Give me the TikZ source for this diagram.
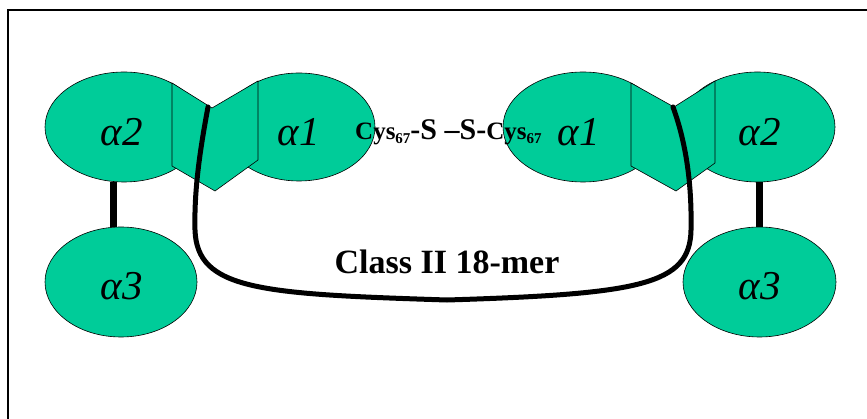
\documentclass[tikz,border=0pt]{standalone}
\usepackage{fontspec}
\setmainfont{Liberation Serif}
\usetikzlibrary{shapes.geometric}
\definecolor{domfill}{RGB}{0,204,153}
\begin{document}
\begin{tikzpicture}[x=1pt,y=-1pt,
  dom/.style={ellipse, draw=black, line width=0.6pt, fill=domfill, inner sep=0pt},
  hinge/.style={draw=black, line width=0.6pt, fill=domfill, line join=miter},
  lab/.style={font=\fontsize{41}{41}\selectfont\itshape, anchor=base, inner sep=0pt},
  bar/.style={line width=7pt},
  chain/.style={line width=5pt, line cap=round},
  frameline/.style={line width=2pt}]
\useasboundingbox (0,0) rectangle (867,419);
\draw[frameline] (868,10) -- (8,10) -- (8,420);
% upper domains
\node[dom, minimum width=158pt, minimum height=110pt] (a2L) at (124,127) {};
\node[dom, minimum width=152pt, minimum height=108pt] (a1L) at (299,127) {};
\node[dom, minimum width=160pt, minimum height=110pt] (a1R) at (583,127) {};
\node[dom, minimum width=155pt, minimum height=110pt] (a2R) at (757.5,127) {};
% lower domains
\node[dom, minimum width=152pt, minimum height=110pt] (a3L) at (121,282) {};
\node[dom, minimum width=153pt, minimum height=110pt] (a3R) at (759.5,282) {};
% hinges
\draw[hinge] (172,83) -- (212,108) -- (258,81) -- (258,160) -- (215,191) -- (172,166) -- cycle;
\draw[hinge] (631,83) -- (674,107) -- (715,81) -- (715,163) -- (676,191) -- (631,166) -- cycle;
% bars
\draw[bar] ([xshift=-8pt]a3L.north) -- ([xshift=-8pt]a3L.north |- a2L.south);
\draw[bar] (a3R.north) -- (a3R.north |- a2R.south);
% chain
\draw[chain] (208,107) .. controls (200,150) and (194,190) .. (195,230)
  .. controls (197,290) and (260,294) .. (447,300)
  .. controls (640,294) and (690,285) .. (691,230)
  .. controls (692,180) and (685,140) .. (673,107);
% labels
\node[lab] (t2L) at (122,146) {α2};
\node[lab] (t1L) at (299,146) {α1};
\node[lab] (t1R) at (579,146) {α1};
\node[lab] (t2R) at (760,146) {α2};
\node[lab] (t3L) at (122,300) {α3};
\node[lab] (t3R) at (760,300) {α3};
\node[anchor=base west, inner sep=0pt, font=\bfseries] (cys) at (355,140)
  {{\fontsize{25}{25}\selectfont Cys\raisebox{-4pt}{\fontsize{15}{15}\selectfont 67}}{\fontsize{30}{30}\selectfont -S –S-}{\fontsize{25}{25}\selectfont Cys\raisebox{-4pt}{\fontsize{15}{15}\selectfont 67}}};
\node[anchor=base, inner sep=0pt, font=\fontsize{34}{34}\selectfont\bfseries] (cls) at (447,274) {Class II 18-mer};
\end{tikzpicture}
\end{document}
